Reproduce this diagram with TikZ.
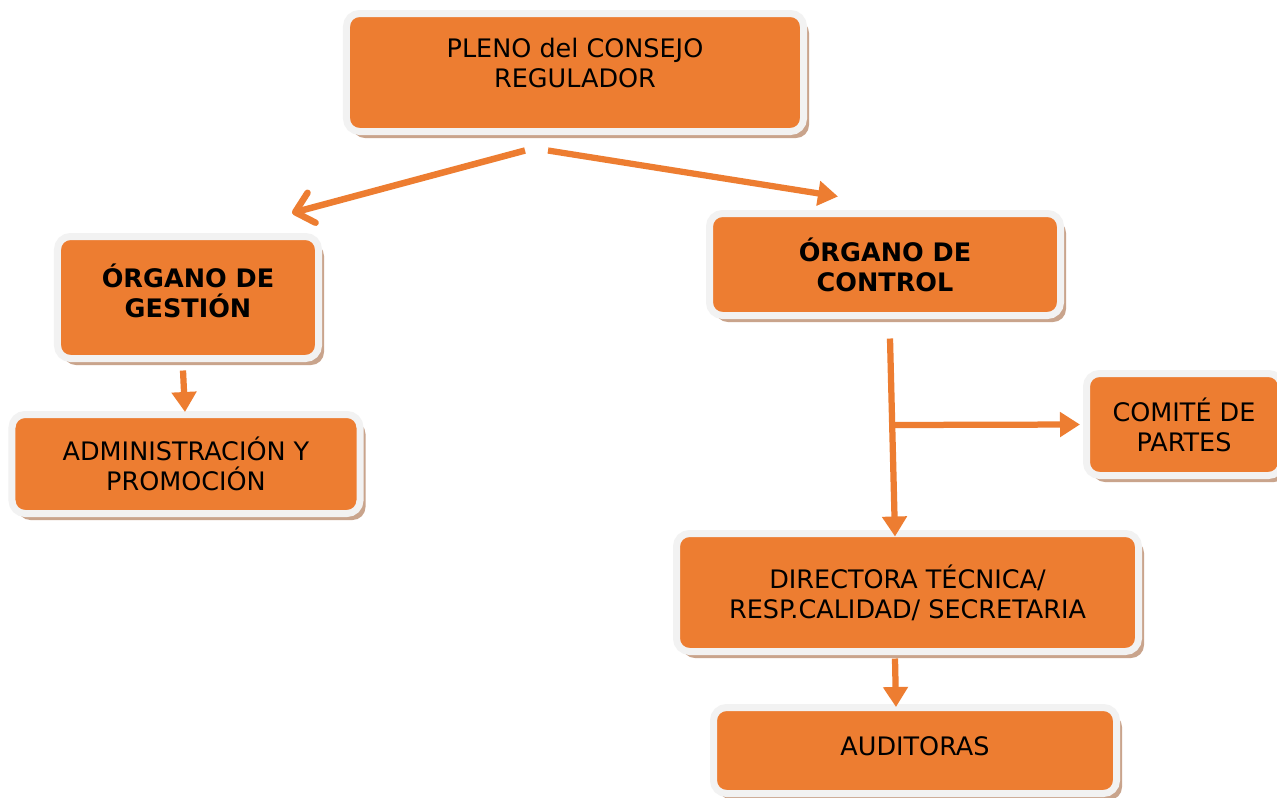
\documentclass[tikz,border=0pt]{standalone}
\usepackage{fontspec}
\setmainfont{DejaVu Sans}
\usetikzlibrary{arrows.meta,shadows}
\definecolor{boxorange}{HTML}{ED7D31}
\definecolor{boxrim}{HTML}{F2F2F2}
\definecolor{boxshadow}{HTML}{C9A48C}
\begin{document}
\begin{tikzpicture}
[x=0.2mm,y=-0.2mm,%
  boxdecorate/.style={shape=rectangle,rounded corners=2.6mm,fill=boxorange,draw=boxrim,line width=1.4mm,%
    inner sep=0pt,align=center,font=\fontsize{14.5}{17}\selectfont,%
    drop shadow={shadow xshift=1.1mm,shadow yshift=-1.3mm,fill=boxshadow,opacity=1}},%
  linedecorate/.style={draw=boxorange,line width=1.25mm,-{Triangle[length=4mm,width=4.8mm]}},%
  barbdecorate/.style={draw=boxorange,line width=1.3mm,-{Straight Barb[length=3.4mm,width=6.2mm,round]}}]
\useasboundingbox[fill=white] (0,0) rectangle (1277,797);
% boxes
\node (pleno) at (575,72.5) [boxdecorate,minimum width=91.4mm,minimum height=23.6mm] {PLENO del CONSEJO\\REGULADOR\\[-5.6pt]\mbox{}};
\node (gestion) at (188,297.5) [boxdecorate,minimum width=52.2mm,minimum height=24.4mm] {\textbf{ÓRGANO DE}\\\textbf{GESTIÓN}\\[-9pt]\mbox{}};
\node (admin) at (186,464) [boxdecorate,minimum width=69.6mm,minimum height=19.8mm] {ADMINISTRACIÓN Y\\PROMOCIÓN};
\node (control) at (885,264.5) [boxdecorate,minimum width=70.2mm,minimum height=20.4mm] {\textbf{ÓRGANO DE}\\\textbf{CONTROL}};
\node (comite) at (1184,424.5) [boxdecorate,minimum width=39mm,minimum height=20.4mm] {COMITÉ DE\\PARTES};
\node (directora) at (907.5,592.5) [boxdecorate,minimum width=92.4mm,minimum height=23.6mm] {DIRECTORA TÉCNICA/\\RESP.CALIDAD/ SECRETARIA};
\node (auditoras) at (915,750.5) [boxdecorate,minimum width=80.6mm,minimum height=17.2mm] {AUDITORAS\\[-12.4pt]\mbox{}};
\coordinate (fork) at (892,425);
% arrows
\path
([shift={(-50,15.5)}]pleno.south) edge[barbdecorate] ([shift={(-30,-20)}]gestion.north east)
([shift={(-27,15.5)}]pleno.south) edge[linedecorate] ([shift={(-47,-13.5)}]control.north)
([shift={(-5,8.5)}]gestion.south) edge[linedecorate] ([shift={(-1,1)}]admin.north)
([shift={(5,19.5)}]control.south) edge[linedecorate] ([shift={(-12.5,6.5)}]directora.north)
(fork) edge[linedecorate] ([shift={(-3,0)}]comite.west)
([shift={(-12.5,3.5)}]directora.south) edge[linedecorate] ([shift={(-19,3)}]auditoras.north);
\end{tikzpicture}
\end{document}
